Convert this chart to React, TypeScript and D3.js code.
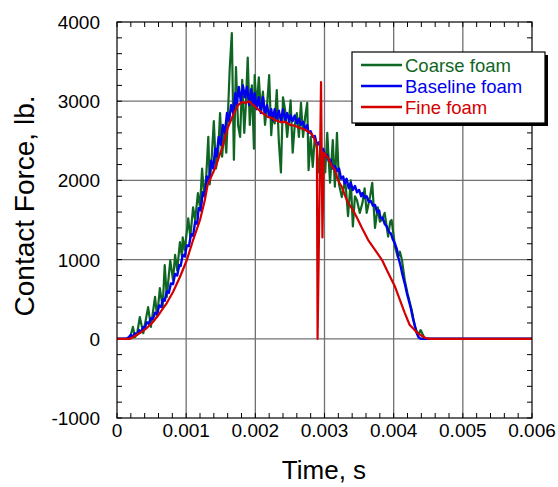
import React from "react";
import * as d3 from "d3";

type Pt = [number, number];

// Time (s), contact force (lb.)
const coarseFoam: Pt[] = [
  [0, 0], [0.00017, 0], [0.00019, 20], [0.00023, 150], [0.00026, 20], [0.00029, 60],
  [0.00033, 275], [0.00038, 70], [0.00045, 400], [0.00049, 150], [0.00055, 530], [0.00058, 275],
  [0.00062, 640], [0.00066, 400], [0.00069, 930], [0.00072, 530], [0.00077, 990], [0.00081, 740],
  [0.00084, 1060], [0.00087, 865], [0.00091, 1220], [0.00094, 1030], [0.00095, 1280], [0.00098, 1120],
  [0.00103, 1520], [0.00106, 1285], [0.0011, 1660], [0.00113, 1500], [0.00117, 1840], [0.0012, 1660],
  [0.00123, 2150], [0.00126, 1800], [0.00129, 2050], [0.00132, 2550], [0.00134, 1950], [0.00137, 2300],
  [0.0014, 2750], [0.00143, 2150], [0.00146, 2300], [0.00149, 2850], [0.00152, 2300], [0.00155, 2650],
  [0.00158, 2350], [0.0016, 2750], [0.00163, 3420], [0.00166, 3860], [0.00169, 2260], [0.00172, 3430],
  [0.00175, 2700], [0.00178, 2550], [0.00181, 3270], [0.00184, 2600], [0.00186, 2900], [0.00189, 3550],
  [0.00192, 2700], [0.00195, 3200], [0.00198, 2400], [0.00199, 3330], [0.00202, 2900], [0.00205, 3300],
  [0.00208, 2880], [0.00211, 3120], [0.00214, 2700], [0.00217, 2950], [0.0022, 3330], [0.00223, 2570],
  [0.00225, 2830], [0.00228, 2720], [0.00231, 3140], [0.00234, 2490], [0.00237, 2100], [0.0024, 3050],
  [0.00243, 2890], [0.00246, 2550], [0.00249, 2800], [0.00251, 3010], [0.00254, 2350], [0.00257, 2700],
  [0.0026, 2850], [0.00263, 2550], [0.00266, 2980], [0.00269, 2550], [0.00272, 2800], [0.00275, 2980],
  [0.00277, 2130], [0.0028, 2550], [0.00283, 2170], [0.00286, 2550], [0.00289, 2420], [0.00292, 2100],
  [0.00295, 2300], [0.00298, 2350], [0.00301, 2100], [0.00304, 2600], [0.00308, 1970], [0.00312, 2510],
  [0.00315, 1920], [0.00318, 2600], [0.00321, 1950], [0.00325, 1790], [0.0033, 2010], [0.00334, 1550],
  [0.00338, 2000], [0.00341, 1420], [0.00344, 1800], [0.00347, 1750], [0.00351, 1590], [0.00355, 1720],
  [0.00358, 1900], [0.00361, 1590], [0.00366, 1800], [0.00369, 1970], [0.00373, 1400], [0.00377, 1660],
  [0.0038, 1480], [0.00383, 1500], [0.00387, 1590], [0.00392, 1290], [0.00395, 1480], [0.00397, 1500],
  [0.00402, 1160], [0.00406, 1030], [0.00409, 1100], [0.00412, 995], [0.00416, 740], [0.0042, 575],
  [0.00426, 365], [0.00431, 150], [0.00435, 50], [0.00439, 110], [0.00444, 20], [0.00448, 0], [0.006, 0],
];

const baselineFoam: Pt[] = [
  [0, 0], [0.00013, 0], [0.00017, 20], [0.0002, 50], [0.00023, 30], [0.00026, 70], [0.00029, 50],
  [0.00032, 110], [0.00035, 90], [0.00038, 150], [0.0004, 130], [0.00043, 210], [0.00046, 190],
  [0.00049, 260], [0.00052, 250], [0.00055, 330], [0.00058, 310], [0.00061, 420], [0.00064, 400],
  [0.00066, 500], [0.00069, 480], [0.00072, 600], [0.00075, 580], [0.00078, 700], [0.00081, 690],
  [0.00084, 820], [0.00087, 800], [0.0009, 930], [0.00092, 920], [0.00095, 1060], [0.00098, 1040],
  [0.00101, 1180], [0.00104, 1170], [0.00107, 1320], [0.0011, 1300], [0.00113, 1480], [0.00116, 1450],
  [0.00118, 1650], [0.00121, 1620], [0.00124, 1850], [0.00127, 1800], [0.0013, 2050], [0.00133, 1980],
  [0.00136, 2250], [0.00139, 2150], [0.00142, 2400], [0.00144, 2300], [0.00147, 2550], [0.0015, 2450],
  [0.00153, 2700], [0.00156, 2600], [0.00159, 2850], [0.00162, 2750], [0.00165, 2950], [0.00168, 2850],
  [0.00171, 3100], [0.00173, 2950], [0.00176, 3180], [0.00179, 3000], [0.00182, 3200], [0.00185, 3050],
  [0.00188, 3180], [0.00191, 2950], [0.00194, 3150], [0.00197, 2950], [0.00199, 3100], [0.00202, 2900],
  [0.00205, 3050], [0.00208, 2850], [0.00211, 3050], [0.00214, 2850], [0.00217, 2950], [0.0022, 2800],
  [0.00223, 2900], [0.00225, 2760], [0.00228, 2900], [0.00231, 2780], [0.00234, 2880], [0.00237, 2750],
  [0.0024, 2900], [0.00243, 2760], [0.00246, 2850], [0.00249, 2740], [0.00251, 2820], [0.00254, 2750],
  [0.00257, 2820], [0.0026, 2720], [0.00263, 2780], [0.00266, 2700], [0.00269, 2740], [0.00272, 2650],
  [0.00275, 2700], [0.00277, 2600], [0.0028, 2620], [0.00283, 2550], [0.00286, 2560], [0.00289, 2450],
  [0.00292, 2480], [0.00295, 2380], [0.00298, 2400], [0.00301, 2300], [0.00304, 2320], [0.00306, 2250],
  [0.00309, 2260], [0.00312, 2150], [0.00315, 2180], [0.00318, 2120], [0.00321, 2150], [0.00324, 2020],
  [0.00327, 2050], [0.00329, 1960], [0.00332, 2020], [0.00335, 1900], [0.00338, 1970], [0.00341, 1880],
  [0.00344, 1930], [0.00347, 1850], [0.0035, 1880], [0.00353, 1800], [0.00355, 1840], [0.00358, 1780],
  [0.00361, 1800], [0.00364, 1730], [0.00367, 1740], [0.0037, 1680], [0.00373, 1690], [0.00376, 1600],
  [0.00379, 1620], [0.00381, 1520], [0.00384, 1530], [0.00387, 1450], [0.0039, 1420], [0.00393, 1350],
  [0.00396, 1330], [0.00399, 1250], [0.00402, 1200], [0.00405, 1120], [0.00407, 1020], [0.0041, 920],
  [0.00413, 800], [0.00416, 700], [0.00419, 580], [0.00422, 480], [0.00425, 380], [0.00428, 250],
  [0.00431, 150], [0.00433, 80], [0.00436, 20], [0.00439, 0], [0.006, 0],
];

const fineFoam: Pt[] = [
  [0, 0], [0.00019, 0], [0.00023, 20], [0.00033, 73], [0.00043, 136], [0.00052, 212], [0.00062, 326],
  [0.00072, 452], [0.00081, 591], [0.00091, 780], [0.00101, 995], [0.0011, 1247], [0.0012, 1500],
  [0.00127, 1752], [0.00131, 1945], [0.00142, 2160], [0.00152, 2410], [0.0016, 2662], [0.00168, 2826],
  [0.00175, 2952], [0.00181, 2990], [0.00185, 2977], [0.00191, 3000], [0.00195, 2965], [0.00202, 2914],
  [0.0021, 2851], [0.00214, 2830], [0.00218, 2800], [0.00224, 2790], [0.00228, 2762], [0.00236, 2737],
  [0.00243, 2740], [0.0025, 2702], [0.00257, 2690], [0.00264, 2664], [0.00272, 2640], [0.00279, 2601],
  [0.00283, 2570], [0.00286, 2510], [0.00289, 2424], [0.0029, 0], [0.00295, 3240], [0.00297, 1280],
  [0.00299, 2350], [0.00301, 2323], [0.00305, 2285], [0.00311, 2172], [0.00315, 2134], [0.00319, 2008],
  [0.00325, 1919], [0.0033, 1800], [0.00334, 1720], [0.00341, 1629], [0.00347, 1528], [0.00354, 1402],
  [0.00363, 1250], [0.00373, 1124], [0.00383, 997], [0.00392, 833], [0.00402, 656], [0.00409, 492],
  [0.00416, 328], [0.00423, 177], [0.00434, 76], [0.00445, 13], [0.00452, 0], [0.006, 0],
];

const xTicks = [0, 0.001, 0.002, 0.003, 0.004, 0.005, 0.006];
const xTickLabels = ["0", "0.001", "0.002", "0.003", "0.004", "0.005", "0.006"];
const yTicks = [-1000, 0, 1000, 2000, 3000, 4000];
const yTickLabels = ["-1000", "0", "1000", "2000", "3000", "4000"];
const seriesNames = ["Coarse foam", "Baseline foam", "Fine foam"];
const seriesColors = ["#0f6623", "#0000ee", "#d40000"];
const xTitle = "Time, s";
const yTitle = "Contact Force, lb.";

const FONT = "Arial, 'Liberation Sans', Helvetica, sans-serif";

export default function App() {
  const W = 558;
  const H = 487;
  const left = 117, right = 532, top = 22, bottom = 418;
  const x = d3.scaleLinear().domain([0, 0.006]).range([left, right]);
  const y = d3.scaleLinear().domain([-1000, 4000]).range([bottom, top]);
  const line = d3.line<Pt>().x((d) => x(d[0])).y((d) => y(d[1]));
  const series = [coarseFoam, baselineFoam, fineFoam];
  const widths = [2.2, 2.4, 2.2];

  const xMinor = d3.range(0, 0.0060001, 0.0002);
  const yMinor = d3.range(-1000, 4000.1, 200);

  const lgX = 352, lgY = 52, lgW = 193, lgH = 71;
  const rowGap = 21;

  return (
    <svg width={W} height={H} style={{ position: "absolute", left: 0, top: 0, background: "#fff" }}
      fontFamily={FONT}>
      <rect x={0} y={0} width={W} height={H} fill="#fff" />
      {/* grid */}
      {xTicks.slice(1, -1).map((t) => (
        <line key={"gx" + t} x1={x(t)} x2={x(t)} y1={top} y2={bottom} stroke="#707070" strokeWidth={1.3} />
      ))}
      {yTicks.slice(1, -1).map((t) => (
        <line key={"gy" + t} x1={left} x2={right} y1={y(t)} y2={y(t)} stroke="#707070" strokeWidth={1.3} />
      ))}
      {/* minor ticks */}
      {xMinor.map((t, i) => (
        <g key={"xm" + i}>
          <line x1={x(t)} x2={x(t)} y1={bottom} y2={bottom - 5} stroke="#000" strokeWidth={1} />
          <line x1={x(t)} x2={x(t)} y1={top} y2={top + 5} stroke="#000" strokeWidth={1} />
        </g>
      ))}
      {yMinor.map((t, i) => (
        <g key={"ym" + i}>
          <line x1={left} x2={left + 5} y1={y(t)} y2={y(t)} stroke="#000" strokeWidth={1} />
          <line x1={right} x2={right - 5} y1={y(t)} y2={y(t)} stroke="#000" strokeWidth={1} />
        </g>
      ))}
      {/* series */}
      {series.map((s, i) => (
        <path key={"s" + i} d={line(s) || ""} fill="none" stroke={seriesColors[i]} strokeWidth={widths[i]}
          strokeLinejoin="round" />
      ))}
      {/* frame */}
      <rect x={left} y={top} width={right - left} height={bottom - top} fill="none" stroke="#000" strokeWidth={1.2} />
      {/* tick labels */}
      {xTicks.map((t, i) => (
        <text key={"xl" + i} x={x(t)} y={437} fontSize={19} textAnchor="middle" fill="#000">{xTickLabels[i]}</text>
      ))}
      {yTicks.map((t, i) => (
        <text key={"yl" + i} x={100} y={y(t) + 7} fontSize={19} textAnchor="end" fill="#000">{yTickLabels[i]}</text>
      ))}
      {/* axis titles */}
      <text x={324} y={479} fontSize={26} textAnchor="middle" fill="#000">{xTitle}</text>
      <text transform={`translate(34,206) rotate(-90)`} fontSize={28} textAnchor="middle" fill="#000">{yTitle}</text>
      {/* legend */}
      <rect x={lgX + 3} y={lgY + 3} width={lgW} height={lgH} fill="#000" />
      <rect x={lgX} y={lgY} width={lgW} height={lgH} fill="#fff" stroke="#000" strokeWidth={1.2} />
      {seriesNames.map((n, i) => (
        <g key={"lg" + i}>
          <line x1={361} x2={402} y1={65 + i * rowGap} y2={65 + i * rowGap} stroke={seriesColors[i]} strokeWidth={2.4} />
          <text x={405} y={71.5 + i * rowGap} fontSize={18.5} fill={seriesColors[i]}>{n}</text>
        </g>
      ))}
    </svg>
  );
}
